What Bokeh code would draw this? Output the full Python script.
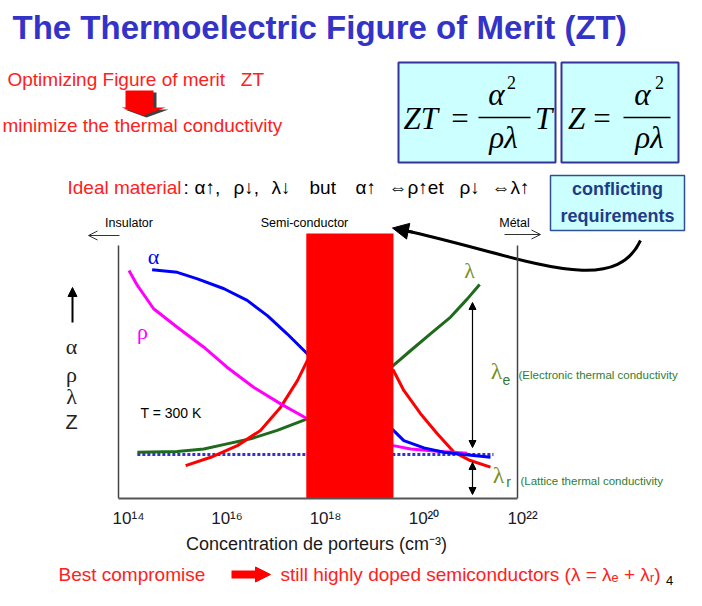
from bokeh.plotting import figure
from bokeh.layouts import column
from bokeh.models import Range1d, Label, Arrow, NormalHead, OpenHead, FixedTicker
from bokeh.embed import file_html
from bokeh.resources import INLINE

# ---------------- chart data ----------------
# x: log10 of carrier concentration (cm^-3); y: relative magnitude (0-100, arbitrary)
alpha_logn = [14.48, 14.99, 15.40, 15.94, 16.41, 16.82, 17.22, 17.63, 19.38, 19.59, 20.00, 20.40, 20.81, 21.35]
alpha_val = [90.4, 89.4, 86.8, 82.9, 78.3, 72.3, 65.1, 57.2, 26.9, 22.9, 20.0, 18.3, 17.4, 16.3]
rho_logn = [14.01, 14.18, 14.51, 14.99, 15.53, 16.00, 16.54, 17.09, 17.63, 19.38, 19.73, 20.27, 20.88]
rho_val = [90.1, 84.2, 75.0, 67.7, 59.8, 51.9, 44.0, 37.4, 31.5, 20.9, 19.6, 18.7, 17.9]
lam_logn = [14.18, 14.99, 15.53, 16.00, 16.48, 17.02, 17.63, 19.38, 19.73, 20.13, 20.54, 20.88, 21.13]
lam_val = [18.3, 18.6, 19.6, 21.6, 23.6, 26.9, 31.5, 52.6, 58.5, 65.1, 71.7, 78.9, 84.6]
z_logn = [15.16, 15.67, 16.21, 16.68, 17.09, 17.43, 17.63, 19.38, 19.59, 19.93, 20.27, 20.61, 20.94, 21.35]
z_val = [13.0, 16.3, 20.9, 26.9, 36.1, 46.6, 54.5, 50.6, 42.7, 33.5, 25.6, 18.3, 15.0, 12.4]
lattice_logn = [14.18, 21.41]
lattice_val = [17.4, 17.4]
optimum_logn = [17.61, 19.38]   # highly doped semiconductor window
optimum_top = 104.7
tick_pos = [14, 16, 18, 20, 22]
tick_labels = ["10¹⁴", "10¹⁶", "10¹⁸", "10²⁰", "10²²"]

# ---------------- layout helpers (slide pixel -> data) ----------------
PX_DEC = 49.25
def X(px):
    return 14 + (px - 128) / PX_DEC
def Y(py):
    return (498 - py) / 2.53

W, H1, H2 = 686, 534, 56
p = figure(width=W, height=H1, x_range=Range1d(X(0), X(W)), y_range=Range1d(0, Y(0)),
           output_backend="svg", toolbar_location=None, y_axis_location=None,
           min_border_left=0, min_border_right=0, min_border_top=0, min_border_bottom=H1 - 498)
p.outline_line_color = None
p.xgrid.visible = False
p.ygrid.visible = False
p.background_fill_color = "white"
p.border_fill_color = "white"

ax = p.xaxis[0]
ax.ticker = FixedTicker(ticks=tick_pos)
ax.major_label_overrides = {t: l for t, l in zip(tick_pos, tick_labels)}
ax.bounds = (X(118), X(517))
ax.axis_line_color = "#555555"
ax.axis_line_width = 2
ax.major_tick_line_color = None
ax.minor_tick_line_color = None
ax.major_tick_out = 0
ax.major_tick_in = 0
ax.major_label_standoff = 10
ax.major_label_text_font = "Liberation Sans"
ax.major_label_text_font_size = "17px"
ax.major_label_text_color = "#1a1a2a"

def T(fig, x, y, txt, size, color="#000000", font="Liberation Sans", style="normal",
      align="left", baseline="middle"):
    fig.add_layout(Label(x=x, y=y, text=txt, text_font_size=f"{size}px",
                         text_color=color, text_font=font, text_font_style=style,
                         text_align=align, text_baseline=baseline))

def TP(px, py, txt, size, **kw):
    T(p, X(px), Y(py), txt, size, **kw)

RED = "#ff2020"
NB = "\u00a0"
# ---------------- slide texts ----------------
TP(12, 27, "The Thermoelectric Figure of Merit (ZT)", 33, color="#3333c8", style="bold")
TP(7, 79, "Optimizing Figure of merit" + NB * 3 + "ZT", 19, color=RED)
TP(2, 125, "minimize the thermal conductivity", 19, color=RED)
# red block arrow (down) with shadow
sx = [125, 153, 153, 165, 143, 121, 125]
sy = [90, 90, 107, 107, 115, 107, 107]
p.patch([X(v + 3) for v in sx], [Y(v + 2) for v in sy], fill_color="#404040", line_color=None)
p.patch([X(v) for v in sx], [Y(v) for v in sy], fill_color="#ff0000", line_color=None)

# formula boxes
p.quad(left=[X(398), X(561)], right=[X(555), X(678)], top=[Y(62), Y(62)], bottom=[Y(162), Y(162)],
       fill_color="#ccffff", line_color="#333399", line_width=2)
SER = "Liberation Serif"
TP(403, 118, "ZT", 31, font=SER, style="italic")
TP(459.5, 118, "=", 31, font=SER, align="center")
p.segment(x0=[X(478), X(623)], y0=[Y(117), Y(117)], x1=[X(530), X(670)], y1=[Y(117), Y(117)],
          line_color="black", line_width=1.5)
TP(496, 94, "α", 31, font=SER, style="italic", align="center")
TP(511, 82, "2", 18, font=SER, align="center")
TP(503, 137, "ρλ", 31, font=SER, style="italic", align="center")
TP(543, 118, "T", 31, font=SER, style="italic", align="center")
TP(576, 118, "Z", 31, font=SER, style="italic", align="center")
TP(601.5, 118, "=", 31, font=SER, align="center")
TP(642, 94, "α", 31, font=SER, style="italic", align="center")
TP(659, 82, "2", 18, font=SER, align="center")
TP(649, 137, "ρλ", 31, font=SER, style="italic", align="center")

# ideal material line
TP(67, 187, "Ideal material", 19, color=RED)
pieces = [(183, ":"), (194, "α↑,"), (233, "ρ↓,"), (271, "λ↓"), (309, "but"), (355, "α↑"),
          (388, "⇔ρ↑et"), (459, "ρ↓"), (491, "⇔λ↑")]
for px, s in pieces:
    TP(px, 187, s, 19)

# conflicting requirements box
p.quad(left=[X(550)], right=[X(684)], top=[Y(175)], bottom=[Y(230)],
       fill_color="#ccffff", line_color="#2f4f8f", line_width=1.5)
TP(617, 188, "conflicting", 18, color="#1f3c88", style="bold", align="center")
TP(617, 215, "requirements", 18, color="#1f3c88", style="bold", align="center")

# black curved arrow
p.bezier(x0=[X(640)], y0=[Y(240)], x1=[X(404)], y1=[Y(230)], cx0=[X(612)], cy0=[Y(300)],
         cx1=[X(520)], cy1=[Y(255)], line_color="black", line_width=3)
p.add_layout(Arrow(x_start=X(412), y_start=Y(231.6), x_end=X(392), y_end=Y(227.5),
                   line_width=3, line_color="black",
                   end=NormalHead(size=16, fill_color="black", line_color="black")))

# regime labels
TP(128.5, 222, "Insulator", 12.5, align="center")
TP(304, 222, "Semi-conductor", 12.5, align="center")
TP(514, 222, "Métal", 12.5, align="center")
p.add_layout(Arrow(x_start=X(119), y_start=Y(235), x_end=X(88), y_end=Y(235), line_width=1,
                   line_color="#333333", end=OpenHead(size=9, line_width=1, line_color="#333333")))
p.add_layout(Arrow(x_start=X(504), y_start=Y(234), x_end=X(540), y_end=Y(234), line_width=1,
                   line_color="#333333", end=OpenHead(size=9, line_width=1, line_color="#333333")))

# plot frame lines
p.segment(x0=[X(118), X(517)], y0=[Y(245), Y(245)], x1=[X(118), X(517)], y1=[0, 0],
          line_color="#444444", line_width=1.5)

# ---------------- curves ----------------
p.line(lattice_logn, lattice_val, line_color="#3333cc", line_width=3, line_dash="3 2")
p.line(lam_logn, lam_val, line_color="#1e6b1e", line_width=3, line_join="round")
p.line(z_logn, z_val, line_color="#ff0000", line_width=3, line_join="round")
p.line(rho_logn, rho_val, line_color="#ff00ff", line_width=3, line_join="round")
p.line(alpha_logn, alpha_val, line_color="#0000ff", line_width=3, line_join="round")
p.quad(left=[optimum_logn[0]], right=[optimum_logn[1]], bottom=[0], top=[optimum_top],
       fill_color="#ff0000", line_color=None)

# curve labels
TP(153, 256, "α", 22, color="#0000ff", font=SER, align="center")
TP(142, 331, "ρ", 22, color="#ff00ff", font=SER, align="center")
TP(469, 270, "λ", 22, color="#7a8c1e", font=SER, align="center")
TP(496, 370, "λ", 24, color="#7a8c1e", font=SER, align="center")
TP(506, 379, "e", 14, color="#2e7d32", align="center")
TP(518, 374, "(Electronic thermal conductivity", 11.5, color="#2e7d32")
TP(498, 474, "λ", 24, color="#7a8c1e", font=SER, align="center")
TP(508, 481, "r", 14, color="#2e7d32", align="center")
TP(520, 480, "(Lattice thermal conductivity", 11.5, color="#2e7d32")
TP(140, 412, "T = 300 K", 14)

# lambda_e / lambda_r double arrows
for a, b in [(302, 447), (462, 494)]:
    p.add_layout(Arrow(x_start=X(472), y_start=Y(b), x_end=X(472), y_end=Y(a), line_width=1.2,
                       line_color="black",
                       start=NormalHead(size=7, fill_color="black", line_color="black"),
                       end=NormalHead(size=7, fill_color="black", line_color="black")))

# left quantity labels
p.add_layout(Arrow(x_start=X(72), y_start=Y(322), x_end=X(72), y_end=Y(287), line_width=2,
                   line_color="black", end=NormalHead(size=9, fill_color="black", line_color="black")))
TP(71, 346, "α", 22, color="#222222", font=SER, align="center")
TP(71, 374, "ρ", 22, color="#222222", font=SER, align="center")
TP(71, 396, "λ", 22, color="#222222", font=SER, align="center")
TP(71, 421, "Z", 20, color="#222222", align="center")

# ---------------- lower strip (axis title + conclusion) ----------------
p2 = figure(width=W, height=H2, x_range=Range1d(0, W), y_range=Range1d(H1 + H2, H1),
            output_backend="svg", toolbar_location=None, x_axis_location=None, y_axis_location=None,
            min_border_left=0, min_border_right=0, min_border_top=0, min_border_bottom=0)
p2.outline_line_color = None
p2.xgrid.visible = False
p2.ygrid.visible = False
p2.border_fill_color = "white"

T(p2, 316, 543, "Concentration de porteurs (cm⁻³)", 18, color="#1a1a1a", align="center")
T(p2, 58, 574, "Best compromise", 19, color=RED)
p2.add_layout(Arrow(x_start=231, y_start=574, x_end=270, y_end=574, line_width=8,
                    line_color="#ff0000", end=NormalHead(size=15, fill_color="#ff0000", line_color="#ff0000")))
T(p2, 280, 574, "still highly doped semiconductors (λ = λₑ + λᵣ)", 19, color=RED)
T(p2, 669, 580, "4", 13, color="#000000", align="center")

layout = column(p, p2, spacing=0)
open("out.html", "w").write(file_html(layout, INLINE, "Thermoelectric figure of merit"))
